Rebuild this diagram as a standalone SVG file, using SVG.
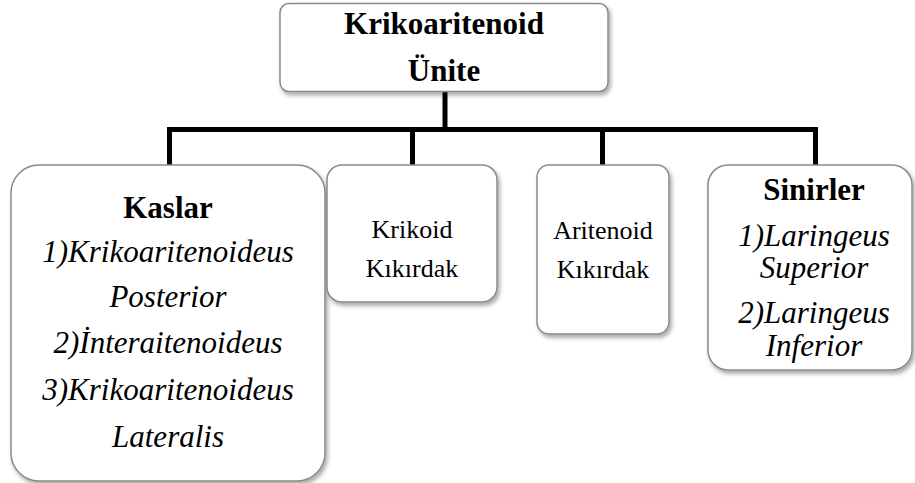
<svg xmlns="http://www.w3.org/2000/svg" width="915" height="483" viewBox="0 0 915 483">
<defs>
<filter id="sh" x="-10%" y="-10%" width="125%" height="125%">
<feDropShadow dx="2" dy="3" stdDeviation="2" flood-color="#000" flood-opacity="0.35"/>
</filter>
</defs>
<style>
.box{fill:#fff;stroke:#8a8a8a;stroke-width:1.5;filter:url(#sh)}
.conn{fill:none;stroke:#000;stroke-width:5;stroke-linejoin:miter}
</style>
<rect width="915" height="483" fill="#fff"/>
<g id="connectors">
<path class="conn" d="M169.5 166 V129.5 H815.5 V166"/>
<path class="conn" d="M445 92 V129.5"/>
<path class="conn" d="M412.5 129.5 V166"/>
<path class="conn" d="M602.5 129.5 V166"/>
</g>
<g font-family="Liberation Serif" text-anchor="middle" fill="#000">
<g id="root">
<rect class="box" x="280" y="3.5" width="328" height="88" rx="9"/>
<text x="444" y="34" font-size="31" font-weight="bold">Krikoaritenoid</text>
<text x="444" y="81" font-size="31" font-weight="bold">Ünite</text>
</g>
<g id="kaslar" font-size="31">
<rect class="box" x="11" y="165" width="314" height="316" rx="28"/>
<text x="168" y="218" font-weight="bold">Kaslar</text>
<text x="168" y="262" font-style="italic">1)Krikoaritenoideus</text>
<text x="168" y="307" font-style="italic">Posterior</text>
<text x="168" y="353" font-style="italic">2)İnteraitenoideus</text>
<text x="168" y="400" font-style="italic">3)Krikoaritenoideus</text>
<text x="168" y="447" font-style="italic">Lateralis</text>
</g>
<g id="krikoid" font-size="26">
<rect class="box" x="327" y="165" width="170" height="137" rx="15"/>
<text x="412" y="238">Krikoid</text>
<text x="412" y="277">Kıkırdak</text>
</g>
<g id="aritenoid" font-size="26">
<rect class="box" x="537" y="165" width="132" height="169" rx="12"/>
<text x="603" y="239">Aritenoid</text>
<text x="603" y="278">Kıkırdak</text>
</g>
<g id="sinirler" font-size="31">
<rect class="box" x="708" y="165" width="204" height="205" rx="20"/>
<text x="814" y="200" font-weight="bold">Sinirler</text>
<text x="814" y="246" font-style="italic">1)Laringeus</text>
<text x="814" y="278" font-style="italic">Superior</text>
<text x="814" y="323" font-style="italic">2)Laringeus</text>
<text x="814" y="356" font-style="italic">Inferior</text>
</g>
</g>
</svg>
